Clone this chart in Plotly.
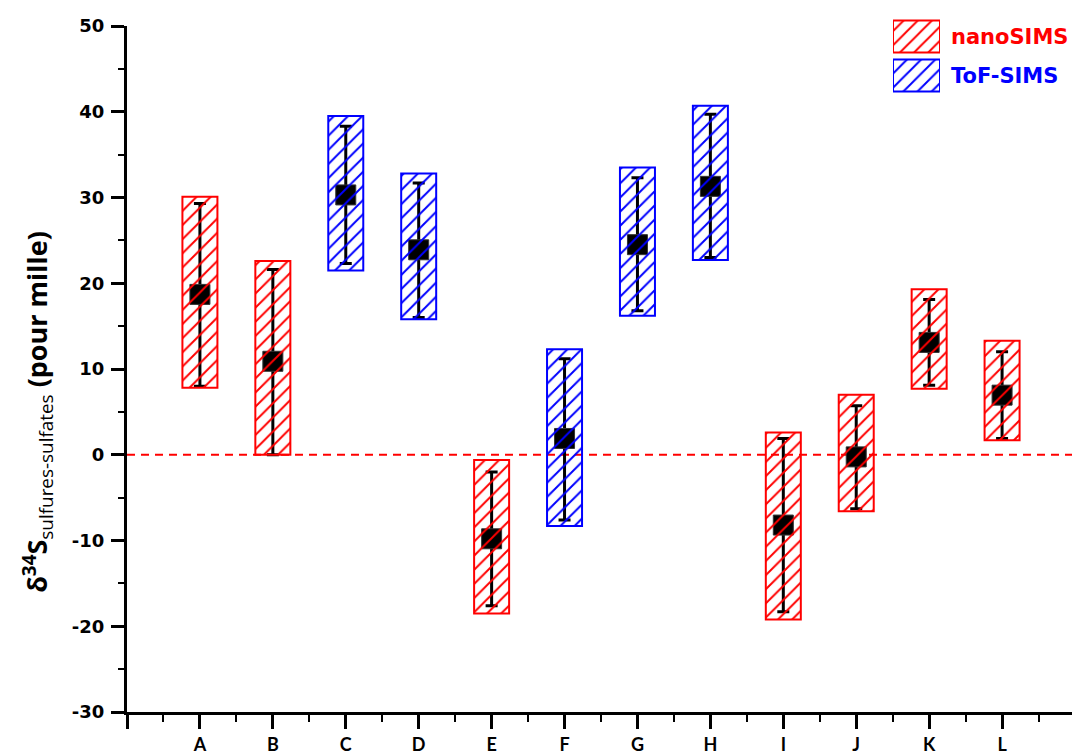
import plotly.graph_objects as go

categories = ["A", "B", "C", "D", "E", "F", "G", "H", "I", "J", "K", "L"]
methods = ["nanoSIMS", "nanoSIMS", "ToF-SIMS", "ToF-SIMS", "nanoSIMS", "ToF-SIMS",
           "ToF-SIMS", "ToF-SIMS", "nanoSIMS", "nanoSIMS", "nanoSIMS", "nanoSIMS"]
box_high = [30.1, 22.6, 39.5, 32.8, -0.6, 12.3, 33.5, 40.7, 2.6, 7.0, 19.3, 13.3]
box_low = [7.8, 0.0, 21.5, 15.8, -18.5, -8.3, 16.2, 22.7, -19.2, -6.6, 7.7, 1.7]
mean_val = [18.7, 10.9, 30.3, 23.9, -9.8, 1.9, 24.5, 31.3, -8.2, -0.25, 13.1, 6.95]
err_high = [29.3, 21.6, 38.3, 31.7, -2.0, 11.2, 32.3, 39.7, 1.9, 5.7, 18.1, 12.0]
err_low = [8.0, 0.0, 22.3, 16.0, -17.6, -7.6, 16.8, 23.0, -18.3, -6.3, 8.1, 1.9]
y_ticks = [-30, -20, -10, 0, 10, 20, 30, 40, 50]
y_ticktext = ["-30", "-20", "-10", "0", "10", "20", "30", "40", "50"]
legend_methods = ["nanoSIMS", "ToF-SIMS"]

colors = {"nanoSIMS": "#ff0000", "ToF-SIMS": "#0000ff"}
xpos = list(range(1, len(categories) + 1))


def hatch(c):
    return dict(color="rgba(0,0,0,0)",
                line=dict(color=c, width=2),
                pattern=dict(shape="/", fgcolor=c, bgcolor="rgba(0,0,0,0)",
                             fillmode="overlay", fgopacity=1,
                             size=10, solidity=0.2))


fig = go.Figure()

# mean markers with error bars (drawn below hatched boxes)
fig.add_trace(go.Scatter(
    x=xpos, y=mean_val, mode="markers", showlegend=False,
    marker=dict(symbol="square", size=20, color="black",
                line=dict(color="#333333", width=1)),
    error_y=dict(type="data", symmetric=False,
                 array=[h - m for h, m in zip(err_high, mean_val)],
                 arrayminus=[m - l for m, l in zip(mean_val, err_low)],
                 color="black", thickness=3, width=6),
    xaxis="x", yaxis="y",
))

for meth in legend_methods:
    idx = [i for i, m in enumerate(methods) if m == meth]
    c = colors[meth]
    fig.add_trace(go.Bar(
        x=[xpos[i] for i in idx],
        y=[box_high[i] - box_low[i] for i in idx],
        base=[box_low[i] for i in idx],
        width=0.48, name=meth, showlegend=False,
        marker=hatch(c),
        xaxis="x", yaxis="y2",
    ))
    # custom legend swatch
    fig.add_trace(go.Bar(
        x=[1], y=[meth], orientation="h", width=0.82, showlegend=False,
        marker=hatch(c), xaxis="x2", yaxis="y3", hoverinfo="skip",
    ))

fig.add_shape(type="line", xref="paper", yref="y", x0=0, x1=1, y0=0, y1=0,
              line=dict(color="#ff0000", width=2, dash="8px,6px"), layer="below")

annotations = [dict(
    text="<b>δ<sup>34</sup>S</b><sub>sulfures-sulfates</sub><b> (pour mille)</b>",
    xref="paper", yref="paper", x=-0.094, y=0.4274,
    xanchor="center", yanchor="middle", textangle=-90, showarrow=False,
    font=dict(family="Open Sans", size=27, color="black"))]
for meth in legend_methods:
    annotations.append(dict(
        text=meth, xref="paper", yref="y3", x=0.867, y=meth,
        xanchor="left", yanchor="middle", showarrow=False,
        font=dict(family="DejaVu Sans", size=21, color=colors[meth], weight="bold")))

# page is offset by the 8px body margin, so margins compensate
ML, MR, MT, MB = 119, 13, 2, 52
plot_w = 1080 - ML - MR
plot_h = 756 - MT - MB
fig.update_layout(
    width=1080, height=756,
    margin=dict(l=ML, r=MR, t=MT, b=MB, autoexpand=False),
    plot_bgcolor="white", paper_bgcolor="white",
    barmode="overlay", showlegend=False,
    xaxis=dict(range=[0, 13], tickmode="array", tickvals=list(range(0, 14)),
               ticktext=[""] + categories + [""], automargin=False,
               showgrid=False, zeroline=False, showline=True,
               linecolor="black", linewidth=3,
               ticks="outside", ticklen=14, tickwidth=3, tickcolor="black",
               ticklabelstandoff=0,
               tickfont=dict(family="Lato", size=18, color="black", weight="bold"),
               minor=dict(tickvals=[i + 0.5 for i in range(13)], ticks="outside",
                          ticklen=7, tickwidth=2, tickcolor="black")),
    yaxis=dict(range=[-30, 50], tickmode="array", tickvals=y_ticks,
               ticktext=y_ticktext,
               domain=[0, 686 / plot_h], automargin=False,
               showgrid=False, zeroline=False, showline=True,
               linecolor="black", linewidth=3,
               ticks="outside", ticklen=13, tickwidth=3, tickcolor="black",
               tickfont=dict(family="DejaVu Sans", size=18, color="black", weight="bold"),
               ticklabelstandoff=3,
               minor=dict(tickvals=[v + 5 for v in y_ticks[:-1]], ticks="outside",
                          ticklen=6, tickwidth=2, tickcolor="black")),
    yaxis2=dict(range=[-30, 50], overlaying="y", visible=False, showgrid=False,
                zeroline=False, domain=[0, 686 / plot_h]),
    xaxis2=dict(domain=[(885 - ML) / plot_w, (932 - ML) / plot_w], range=[0, 1],
                visible=False, anchor="y3"),
    yaxis3=dict(domain=[(704 - 87) / plot_h, (704 - 9) / plot_h],
                type="category", categoryarray=legend_methods[::-1],
                categoryorder="array", visible=False, anchor="x2"),
    annotations=annotations,
)

fig.write_html("out.html")
